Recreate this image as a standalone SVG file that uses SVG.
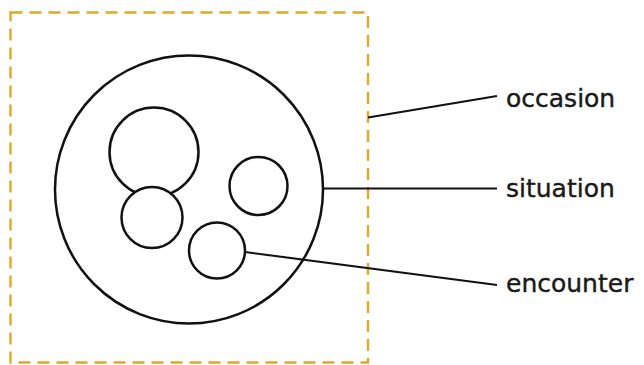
<svg xmlns="http://www.w3.org/2000/svg" width="644" height="365" viewBox="0 0 644 365">
<style>
.c{fill:#fff;stroke:#111;stroke-width:2.5}
.l{fill:none;stroke:#111;stroke-width:2}
.t{font-family:"DejaVu Sans",Verdana,sans-serif;font-size:25px;fill:#1a1a1a;stroke:#1a1a1a;stroke-width:0.4}
</style>
<rect width="644" height="365" fill="#fff"/>
<g id="occasion-node">
<rect x="10.5" y="12.5" width="357.5" height="350" fill="none" stroke="#DDA928" stroke-width="2.4" stroke-dasharray="12 7"/>
</g>
<g id="situation-node">
<circle class="c" cx="189" cy="189.5" r="134"/>
</g>
<g id="encounter-1"><circle class="c" cx="154" cy="152" r="44.5"/></g>
<g id="encounter-2"><circle class="c" cx="152" cy="217.5" r="30.5"/></g>
<g id="encounter-3"><circle class="c" cx="258.5" cy="186" r="29"/></g>
<g id="encounter-4"><circle class="c" cx="217" cy="250.5" r="28"/></g>
<g id="connectors">
<line class="l" x1="368" y1="117.5" x2="497" y2="96"/>
<line class="l" x1="323" y1="188.5" x2="497" y2="188.5"/>
<line class="l" x1="245" y1="252" x2="497" y2="285"/>
</g>
<g id="labels">
<text class="t" x="506" y="107">occasion</text>
<text class="t" x="506" y="197">situation</text>
<text class="t" x="506" y="292">encounter</text>
</g>
</svg>
